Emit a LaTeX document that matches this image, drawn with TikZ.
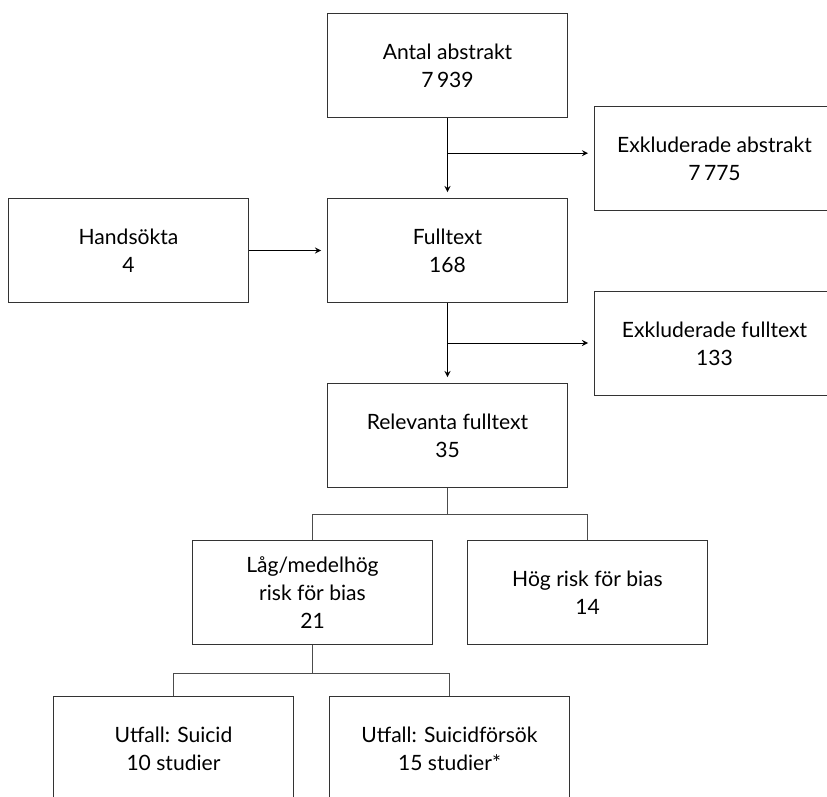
\documentclass[tikz,border=0pt]{standalone}
\usepackage{fontspec}
\setmainfont{Lato}
\usepackage{tikz}
\usetikzlibrary{positioning}
\usetikzlibrary{calc}
\usetikzlibrary{arrows}
\tikzset{
    % Small filled arrow heads for the flow
    >=stealth,
%
    % The boxes that carry a count of studies
    count box/.style={
        draw=black!80, line width=0.55pt, rectangle, align=center,
        minimum width=4.8cm, minimum height=2.08cm,
        font=\fontsize{12}{16}\selectfont},
%
    % Arrows feeding from one stage into the next
    feed arrow/.style={draw, line width=0.55pt, ->, shorten >=1.2mm},
%
    % Plain lines splitting a stage into its subgroups
    split line/.style={draw=black!70, line width=0.55pt}}

\begin{document}
\begin{tikzpicture}

\useasboundingbox (0,0) rectangle (16.54,-15.94);
\clip (0,0) rectangle (16.54,-15.94);

\node (abstrakt) [count box] at (8.95,-1.31) {Antal abstrakt\\7\,939};
\node (exabs) [count box] at (14.29,-3.17) {Exkluderade abstrakt\\7\,775};
\node (full) [count box] at (8.95,-5.01) {Fulltext\\168};
\node (hand) [count box] at (2.57,-5.01) {Handsökta\\4};
\node (exfull) [count box] at (14.29,-6.87) {Exkluderade fulltext\\133};
\node (relevant) [count box] at (8.95,-8.71) {Relevanta fulltext\\35};
\node (low) [count box] at (6.25,-11.85)
    {Låg/medelhög\\risk för bias\\21};
\node (high) [count box] at (11.75,-11.85) {Hög risk för bias\\14};
\node (suicid) [count box] at (3.47,-14.97) {Utfall: Suicid\\10 studier};
\node (forsok) [count box] at (8.99,-14.97)
    {Utfall: Suicidförsök\\15 studier*};

% main flow down the middle
\draw [feed arrow] (abstrakt.south) -- (full.north);
\draw [feed arrow] (full.south) -- (relevant.north);
\draw [feed arrow] (hand.east) -- (full.west);

% exclusions branch off to the right
\coordinate (absfork) at ($(abstrakt.south)!0.44!(full.north)$);
\coordinate (fullfork) at ($(full.south)!0.5!(relevant.north)$);
\draw [feed arrow] (absfork) -- (absfork -| exabs.west);
\draw [feed arrow] (fullfork) -- (fullfork -| exfull.west);

% risk of bias split
\coordinate (biasfork) at ($(relevant.south)+(0,-0.52)$);
\draw [split line] (relevant.south) -- (biasfork);
\draw [split line] (low.north) |- (biasfork) -| (high.north);

% outcome split
\coordinate (outfork) at ($(low.south)+(0,-0.56)$);
\draw [split line] (low.south) -- (outfork);
\draw [split line] (suicid.north) |- (outfork) -| (forsok.north);

\end{tikzpicture}
\end{document}
